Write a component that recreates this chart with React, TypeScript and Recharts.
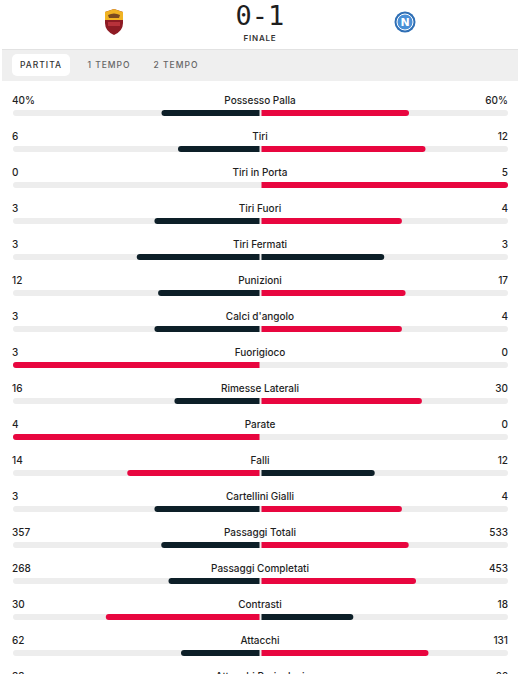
import React from 'react';
import { BarChart, Bar, XAxis, YAxis, Rectangle } from 'recharts';

const statNames = [
  'Possesso Palla',
  'Tiri',
  'Tiri in Porta',
  'Tiri Fuori',
  'Tiri Fermati',
  'Punizioni',
  "Calci d'angolo",
  'Fuorigioco',
  'Rimesse Laterali',
  'Parate',
  'Falli',
  'Cartellini Gialli',
  'Passaggi Totali',
  'Passaggi Completati',
  'Contrasti',
  'Attacchi',
  'Attacchi Pericolosi',
];
const homeValues = [40, 6, 0, 3, 3, 12, 3, 3, 16, 4, 14, 3, 357, 268, 30, 62, 33];
const awayValues = [60, 12, 5, 4, 3, 17, 4, 0, 30, 0, 12, 4, 533, 453, 18, 131, 66];
const percentStats = ['Possesso Palla'];
const tabs = ['PARTITA', '1 TEMPO', '2 TEMPO'];
const homeGoals = 0;
const awayGoals = 1;

const RED = '#e8063f';
const DARK = '#0d1f28';
const TRACK = '#ededed';
const FONT = 'Inter, "Open Sans", sans-serif';

const data = statNames.map((name, i) => {
  const total = homeValues[i] + awayValues[i];
  return {
    name,
    home: homeValues[i],
    away: awayValues[i],
    homeShare: total ? -homeValues[i] / total : 0,
    awayShare: total ? awayValues[i] / total : 0,
  };
});

const fmt = (name: string, v: number) => (percentStats.includes(name) ? `${v}%` : `${v}`);

const HomeBar = (props: any) => {
  const { x, y, width, height, payload } = props;
  const w = Math.abs(width);
  if (!w) return null;
  const x0 = Math.min(x, x + width);
  const fill = payload.home > payload.away ? RED : DARK;
  return <Rectangle x={x0} y={y} width={w - 1} height={height} fill={fill} radius={[3, 0, 0, 3]} />;
};

const AwayBar = (props: any) => {
  const { x, y, width, height, payload } = props;
  const w = Math.abs(width);
  if (!w) return null;
  const x0 = Math.min(x, x + width);
  const fill = payload.away > payload.home ? RED : DARK;
  return <Rectangle x={x0 + 1} y={y} width={w - 1} height={height} fill={fill} radius={[0, 3, 3, 0]} />;
};

const StatTick = (props: any) => {
  const { y, payload } = props;
  const row = data.find((d) => d.name === payload?.value);
  if (!row) return null;
  const ty = y - 9;
  const common = { fontFamily: FONT, fontSize: 10, fontWeight: 500, fill: '#1f1f1f' };
  return (
    <g>
      <text x={12} y={ty} textAnchor="start" {...common}>{fmt(row.name, row.home)}</text>
      <text x={260} y={ty} textAnchor="middle" {...common}>{row.name}</text>
      <text x={508} y={ty} textAnchor="end" {...common}>{fmt(row.name, row.away)}</text>
    </g>
  );
};

const RomaLogo = () => (
  <svg width={20} height={26} viewBox="0 0 20 26" style={{ position: 'absolute', left: 104, top: 9 }}>
    <path d="M1 3 L10 0 L19 3 L19 14 Q19 22 10 26 Q1 22 1 14 Z" fill="#8e1b24" />
    <path d="M1 3 L10 0 L19 3 L19 11 L1 11 Z" fill="#f0b323" />
    <path d="M4 6 Q10 3 16 6 L15 9 L5 9 Z" fill="#7a4a20" />
    <rect x={4} y={13} width={12} height={4} fill="#b8323a" />
  </svg>
);

const NapoliLogo = () => (
  <svg width={22} height={22} viewBox="0 0 22 22" style={{ position: 'absolute', left: 394, top: 11 }}>
    <circle cx={11} cy={11} r={10.5} fill="#2f6fb5" />
    <circle cx={11} cy={11} r={8} fill="#4a8fd6" stroke="#ffffff" strokeWidth={1} />
    <text x={11} y={15} textAnchor="middle" fontFamily="DejaVu Sans" fontWeight="bold" fontSize={11} fill="#ffffff">N</text>
  </svg>
);

export default function App() {
  return (
    <div style={{ position: 'fixed', left: 0, top: 0, width: 520, height: 674, overflow: 'hidden', background: '#fff', fontFamily: FONT }}>
      <div style={{ position: 'absolute', left: 0, top: 77 }}>
        <BarChart
          width={520}
          height={630}
          data={data}
          layout="vertical"
          stackOffset="sign"
          margin={{ top: 18, right: 12, bottom: 0, left: 12 }}
        >
          <XAxis type="number" domain={[-1, 1]} hide />
          <YAxis
            type="category"
            dataKey="name"
            width={1}
            axisLine={false}
            tickLine={false}
            interval={0}
            tick={(p: any) => <StatTick {...p} />}
          />
          <Bar
            dataKey="homeShare"
            stackId="s"
            barSize={6}
            background={{ fill: TRACK, radius: 3 } as any}
            shape={<HomeBar />}
            isAnimationActive={false}
          />
          <Bar dataKey="awayShare" stackId="s" barSize={6} shape={<AwayBar />} isAnimationActive={false} />
        </BarChart>
      </div>
      <RomaLogo />
      <NapoliLogo />
      <div style={{ position: 'absolute', left: 0, width: 520, top: 1, textAlign: 'center', fontFamily: '"DejaVu Sans Mono", monospace', fontSize: 27, fontWeight: 500, color: '#1e1e1e', lineHeight: '30px' }}>
        {`${homeGoals}-${awayGoals}`}
      </div>
      <div style={{ position: 'absolute', left: 0, width: 520, top: 33, textAlign: 'center', fontSize: 8, fontWeight: 600, letterSpacing: 0.8, color: '#333', lineHeight: '10px' }}>
        FINALE
      </div>
      <div style={{ position: 'absolute', left: 2, top: 49, width: 516, height: 32, background: '#efefef', borderTop: '1px solid #e2e2e2', boxSizing: 'border-box' }}>
        {tabs.map((t, i) => (
          <div
            key={t}
            style={{
              position: 'absolute',
              top: 4,
              left: [10, 79, 146][i],
              width: [58, 56, 56][i],
              height: 22,
              lineHeight: '22px',
              textAlign: 'center',
              borderRadius: 5,
              background: i === 0 ? '#fff' : 'transparent',
              fontSize: 8.5,
              fontWeight: 500,
              letterSpacing: 1,
              color: i === 0 ? '#333' : '#666',
            }}
          >
            {t}
          </div>
        ))}
      </div>
    </div>
  );
}
